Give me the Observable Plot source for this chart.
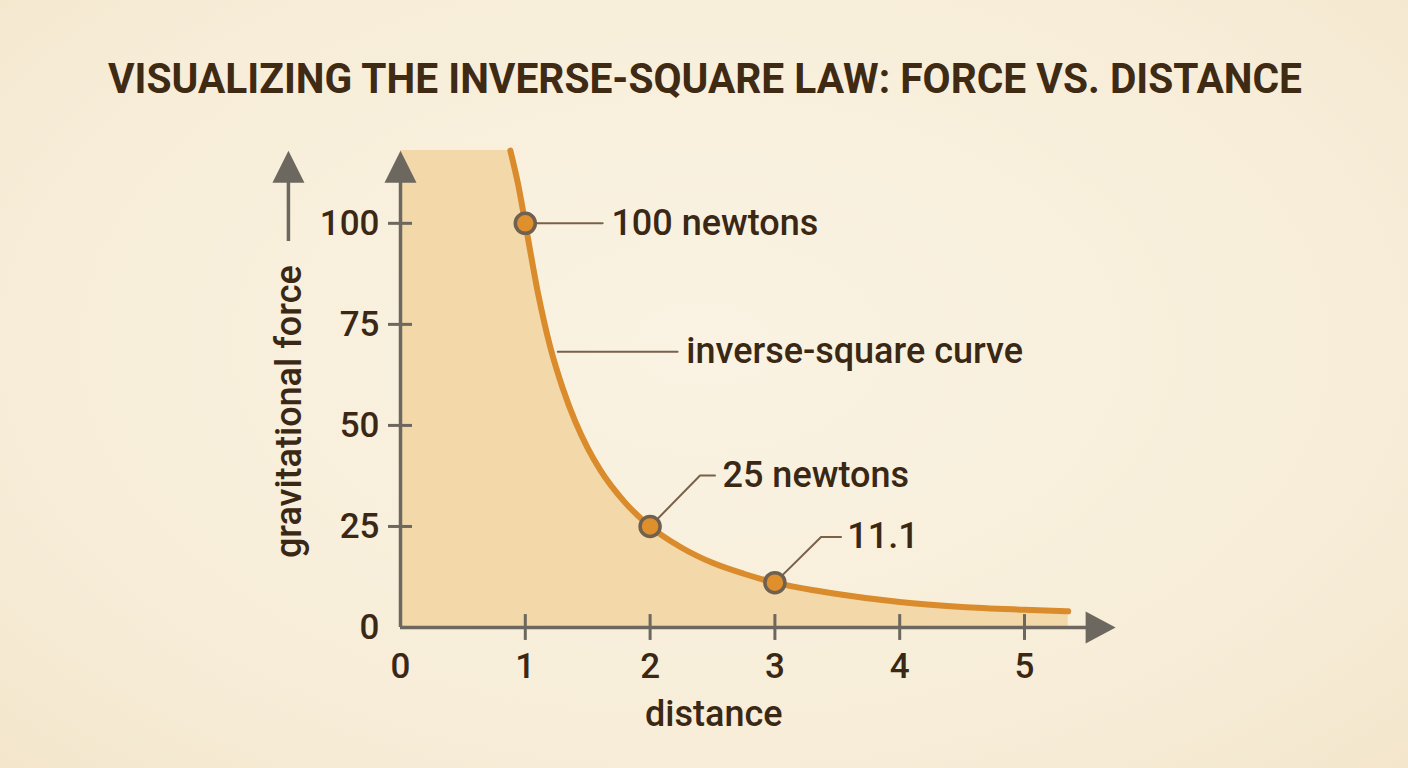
<!DOCTYPE html>
<html>
<head>
<meta charset="utf-8">
<script src="https://cdn.jsdelivr.net/npm/d3@7"></script>
<script src="https://cdn.jsdelivr.net/npm/@observablehq/plot@0.6"></script>
<style>
  html, body { margin: 0; padding: 0; background: #f8efdc; }
  #wrap { width: 1408px; height: 768px; overflow: hidden; position: relative;
    background: radial-gradient(ellipse at 50% 45%, #faf3e3 0%, #f7edd8 70%, #f3e6cc 100%); }
  #title { display: block; }
  #chart svg { display: block; }
</style>
</head>
<body>
<div id="wrap">
  <svg id="title" width="1408" height="130"></svg>
  <div id="chart"></div>
</div>
<script>
// ---- data ----
const titleText = "VISUALIZING THE INVERSE-SQUARE LAW: FORCE VS. DISTANCE";
const curveX = [0.88, 0.94, 1.0, 1.1, 1.2, 1.3, 1.4, 1.5, 1.6, 1.8, 2.0, 2.25, 2.5, 2.75, 3.0, 3.5, 4.0, 4.5, 5.0, 5.35];
const curveY = [118, 110, 100, 83, 69.4, 59.2, 51, 44.4, 39, 30.9, 25, 19.8, 16, 13.3, 11.1, 8.3, 6.3, 5.1, 4.4, 4.0];
const fillStartX = 0;
const fillCapY = 118;
const xTicks = [0, 1, 2, 3, 4, 5];
const yTicks = [0, 25, 50, 75, 100];
const pointX = [1, 2, 3];
const pointY = [100, 25, 11.1];
const labelText = ["100 newtons", "25 newtons", "11.1"];
const xLabel = "distance";
const yLabel = "gravitational force";
const curveLabel = "inverse-square curve";

// ---- title ----
const tsvg = d3.select("#title");
tsvg.append("text")
  .attr("x", 108).attr("y", 93)
  .attr("textLength", 1194).attr("lengthAdjust", "spacingAndGlyphs")
  .attr("font-family", "Roboto").attr("font-weight", 700).attr("font-size", 42)
  .attr("fill", "#3f2a14")
  .text(titleText);

// ---- tables ----
const curve = curveX.map((x, i) => ({x, y: curveY[i]}));
const fill = [{x: fillStartX, y: fillCapY}, ...curve];
const points = pointX.map((x, i) => ({x, y: pointY[i], label: labelText[i]}));
const xt = xTicks.map(x => ({x}));
const yt = yTicks.map(y => ({y}));

const axisColor = "#6c675f";
const textColor = "#3a2814";
const leaderColor = "#7a6249";
const font = "Roboto";

// leaders: from point -> elbow -> end (data coords)
const leaders = [
  [[1, 100], [1.62, 100]],
  [[1.26, 68.2], [2.22, 68.2]],
  [[2, 25], [2.40, 37.6], [2.52, 37.6]],
  [[3, 11.1], [3.37, 22.4], [3.53, 22.4]]
];
const leaderRows = leaders.flatMap((pts, k) => pts.map(([x, y]) => ({x, y, k})));
const labels = [
  {x: 1.69, y: 100, text: labelText[0]},
  {x: 2.29, y: 68.2, text: curveLabel},
  {x: 2.58, y: 37.6, text: labelText[1]},
  {x: 3.58, y: 22.4, text: labelText[2]}
];

// custom filled triangle symbols
const triUp = {draw(ctx) { ctx.moveTo(0, -16); ctx.lineTo(16, 16); ctx.lineTo(-16, 16); ctx.closePath(); }};
const triRight = {draw(ctx) { ctx.moveTo(15, 0); ctx.lineTo(-15, 16); ctx.lineTo(-15, -16); ctx.closePath(); }};

const plot = Plot.plot({
  width: 1408,
  height: 638,
  marginLeft: 400,
  marginRight: 259.2,
  marginTop: 12,
  marginBottom: 141,
  x: {type: "linear", domain: [0, 6], axis: null},
  y: {type: "linear", domain: [0, 120], axis: null},
  style: {background: "transparent", fontFamily: font, overflow: "visible"},
  marks: [
    Plot.areaY(fill, {x: "x", y: "y", fill: "#f2d4a0", fillOpacity: 0.85, curve: "monotone-x"}),
    Plot.line(curve, {x: "x", y: "y", stroke: "#da8b2b", strokeWidth: 6, curve: "monotone-x"}),
    // axes
    Plot.ruleY([0], {x1: 0, x2: 5.62, stroke: axisColor, strokeWidth: 3.5}),
    Plot.ruleX([0], {y1: 0, y2: 112, stroke: axisColor, strokeWidth: 3.5}),
    Plot.dot([{x: 0, y: 114}], {x: "x", y: "y", symbol: triUp, r: 1, fill: axisColor, stroke: "none"}),
    Plot.dot([{x: 5.61, y: 0}], {x: "x", y: "y", symbol: triRight, r: 1, fill: axisColor, stroke: "none"}),
    // ticks
    Plot.ruleX(xt.filter(d => d.x > 0), {x: "x", y1: -3.2, y2: 3.2, stroke: axisColor, strokeWidth: 3}),
    Plot.text(xt, {x: "x", y: 0, text: d => String(d.x), dy: 39, fontSize: 35, fontWeight: 500, fill: textColor}),
    Plot.ruleY(yt.filter(d => d.y > 0), {y: "y", x1: -0.096, x2: 0.096, stroke: axisColor, strokeWidth: 3}),
    Plot.text(yt, {x: 0, y: "y", text: d => String(d.y), dx: -21, textAnchor: "end", fontSize: 35, fontWeight: 500, fill: textColor}),
    // axis labels
    Plot.text([{x: 2.51, y: 0}], {x: "x", y: "y", text: () => xLabel, dy: 87, fontSize: 36, fontWeight: 500, fill: textColor}),
    Plot.text([{x: -0.89, y: 53.4}], {x: "x", y: "y", text: () => yLabel, rotate: -90, fontSize: 36, fontWeight: 500, fill: textColor}),
    // arrow next to y label
    Plot.ruleX([-0.898], {x: d => d, y1: 95.5, y2: 112, stroke: axisColor, strokeWidth: 3.5}),
    Plot.dot([{x: -0.898, y: 114}], {x: "x", y: "y", symbol: triUp, r: 1, fill: axisColor, stroke: "none"}),
    // leaders
    Plot.line(leaderRows, {x: "x", y: "y", z: "k", stroke: leaderColor, strokeWidth: 2}),
    // points
    Plot.dot(points, {x: "x", y: "y", r: 10, fill: "#df8f2c", stroke: "#6f604f", strokeWidth: 3.5}),
    // annotation labels
    Plot.text(labels, {x: "x", y: "y", text: "text", textAnchor: "start", fontSize: 36, fontWeight: 500, fill: textColor})
  ]
});

document.getElementById("chart").appendChild(plot);
</script>
</body>
</html>
